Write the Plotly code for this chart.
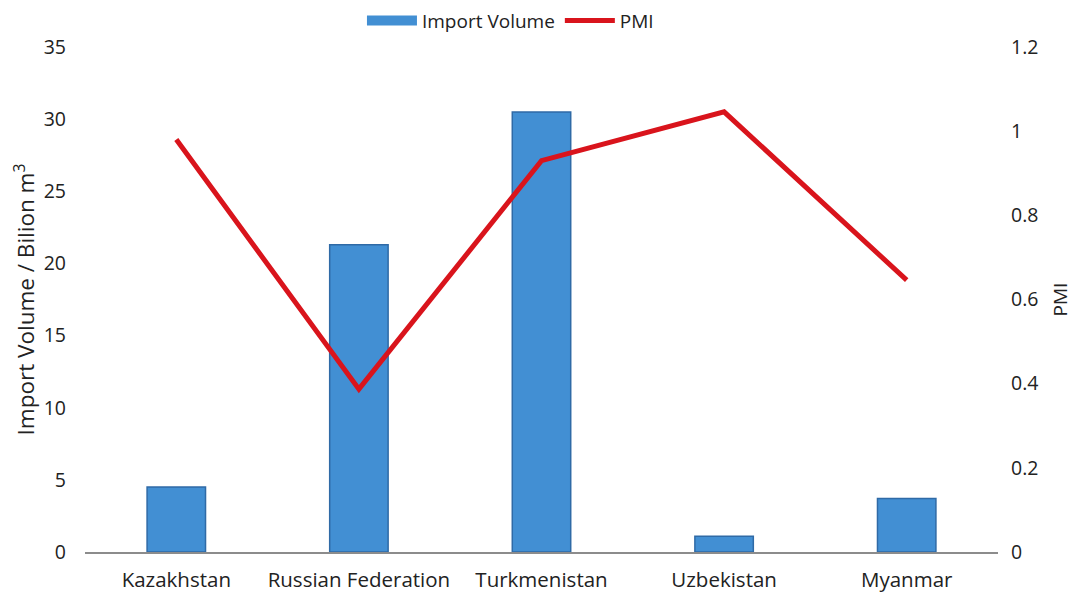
import plotly.graph_objects as go

categories = ["Kazakhstan", "Russian Federation", "Turkmenistan", "Uzbekistan", "Myanmar"]
import_volume = [4.5, 21.3, 30.5, 1.1, 3.7]
pmi = [0.98, 0.387, 0.93, 1.046, 0.646]

font_family = "Open Sans, Noto Sans, sans-serif"
bar_color = "#428fd3"
line_color = "#d9141c"

fig = go.Figure()
fig.add_trace(go.Bar(
    x=categories, y=import_volume, name="Import Volume",
    marker=dict(color=bar_color, line=dict(color="#2f6aa6", width=1.5)),
    width=0.32, yaxis="y", showlegend=False,
))
# legend-only entry to show a wide rectangle swatch like the reference
fig.add_trace(go.Scatter(
    x=[None], y=[None], name="Import Volume", mode="lines",
    line=dict(color=bar_color, width=12), yaxis="y",
))
fig.add_trace(go.Scatter(
    x=categories, y=pmi, name="PMI", mode="lines",
    line=dict(color=line_color, width=5), yaxis="y2",
))

fig.update_layout(
    width=1079, height=595,
    margin=dict(l=77, r=89, t=39, b=51, autoexpand=False),
    paper_bgcolor="white", plot_bgcolor="white",
    font=dict(family=font_family, size=18, color="#222"),
    showlegend=True,
    legend=dict(orientation="h", x=0.466, xanchor="center", y=1.052, yanchor="middle",
                font=dict(size=19), traceorder="normal", itemwidth=50,
                bgcolor="rgba(0,0,0,0)"),
    xaxis=dict(showgrid=False, showline=True, linecolor="#8c8c8c", linewidth=2,
               ticks="", tickfont=dict(size=20.5), range=[-0.5, 4.5], ticklabelstandoff=8),
    yaxis=dict(range=[0, 35], dtick=5, showgrid=False, zeroline=False,
               ticks="", ticklabelstandoff=18, tickfont=dict(size=19.5),
               title=dict(text="Import Volume / Bilion m<sup>3</sup>", font=dict(size=22.5), standoff=8)),
    yaxis2=dict(range=[0, 1.2], dtick=0.2, overlaying="y", side="right",
                showgrid=False, zeroline=False, ticks="", ticklabelstandoff=12,
                tickfont=dict(size=19.5),
                title=dict(text="PMI", font=dict(size=19), standoff=16)),
)

fig.write_html("out.html")
